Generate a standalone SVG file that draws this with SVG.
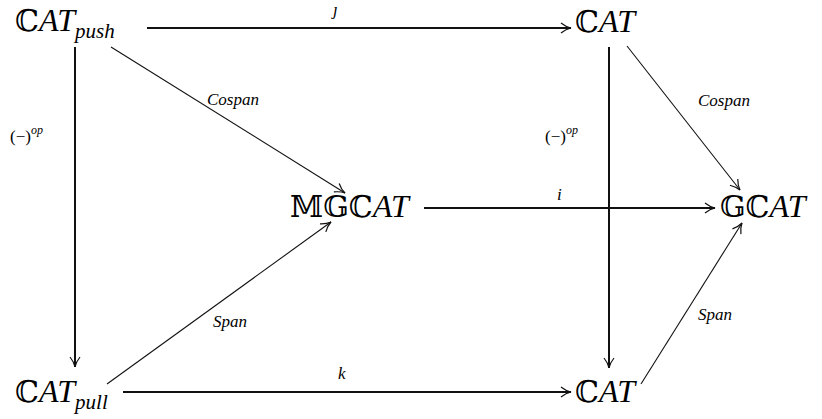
<svg xmlns="http://www.w3.org/2000/svg" width="822" height="419" viewBox="0 0 822 419">
<style>
.thick{stroke:#111;stroke-width:2;fill:none}
.thin{stroke:#111;stroke-width:1.1;fill:none}
</style>
<defs>
<marker id="ah" markerWidth="14" markerHeight="12" refX="11" refY="6" orient="auto" markerUnits="userSpaceOnUse">
<path d="M1,1 Q6,5 11,6 Q6,7 1,11" fill="none" stroke="#111" stroke-width="1.2"/>
</marker>
</defs>
<g id="connectors">
<line class="thick" x1="147" y1="28" x2="571" y2="28" marker-end="url(#ah)"/>
<line class="thick" x1="75" y1="47" x2="75" y2="367" marker-end="url(#ah)"/>
<line class="thick" x1="609" y1="47" x2="609" y2="368" marker-end="url(#ah)"/>
<line class="thick" x1="424" y1="208" x2="715" y2="208" marker-end="url(#ah)"/>
<line class="thick" x1="123" y1="392" x2="571" y2="392" marker-end="url(#ah)"/>
<line class="thin" x1="111" y1="47" x2="345" y2="193" marker-end="url(#ah)"/>
<line class="thin" x1="107" y1="384" x2="331" y2="222" marker-end="url(#ah)"/>
<line class="thin" x1="627" y1="46" x2="740" y2="190" marker-end="url(#ah)"/>
<line class="thin" x1="641" y1="384" x2="742" y2="223" marker-end="url(#ah)"/>
<text font-family="Liberation Serif" font-size="17" font-style="italic" x="333" y="15">ȷ</text>
<text font-family="Liberation Serif" font-size="17" font-style="italic" x="557" y="200">i</text>
<text font-family="Liberation Serif" font-size="17" font-style="italic" x="338" y="379">k</text>
<text font-family="Liberation Serif" font-size="17" font-style="italic" x="207" y="105">Cospan</text>
<text font-family="Liberation Serif" font-size="17" font-style="italic" x="698" y="106">Cospan</text>
<text font-family="Liberation Serif" font-size="17" font-style="italic" x="213" y="327">Span</text>
<text font-family="Liberation Serif" font-size="17" font-style="italic" x="698" y="320">Span</text>
<text font-family="Liberation Serif" font-size="17" x="10" y="142">(−)<tspan font-style="italic" font-size="12" dy="-8">op</tspan></text>
<text font-family="Liberation Serif" font-size="17" x="545" y="142">(−)<tspan font-style="italic" font-size="12" dy="-8">op</tspan></text>
</g>
<g id="cat-push"><text font-family="Liberation Serif" font-size="32" font-style="italic" x="15" y="31"><tspan font-family="DejaVu Serif" font-style="normal" font-size="30">ℂ</tspan>AT<tspan font-size="21" dy="7">push</tspan></text></g>
<g id="cat-top"><text font-family="Liberation Serif" font-size="32" font-style="italic" x="575" y="32"><tspan font-family="DejaVu Serif" font-style="normal" font-size="30">ℂ</tspan>AT</text></g>
<g id="mgcat"><text font-family="Liberation Serif" font-size="32" font-style="italic" x="290" y="217"><tspan font-family="DejaVu Serif" font-style="normal" font-size="30">𝕄𝔾ℂ</tspan>AT</text></g>
<g id="gcat"><text font-family="Liberation Serif" font-size="32" font-style="italic" x="720" y="217"><tspan font-family="DejaVu Serif" font-style="normal" font-size="30">𝔾ℂ</tspan>AT</text></g>
<g id="cat-pull"><text font-family="Liberation Serif" font-size="32" font-style="italic" x="15" y="402"><tspan font-family="DejaVu Serif" font-style="normal" font-size="30">ℂ</tspan>AT<tspan font-size="21" dy="7">pull</tspan></text></g>
<g id="cat-bottom"><text font-family="Liberation Serif" font-size="32" font-style="italic" x="575" y="402"><tspan font-family="DejaVu Serif" font-style="normal" font-size="30">ℂ</tspan>AT</text></g>
</svg>
